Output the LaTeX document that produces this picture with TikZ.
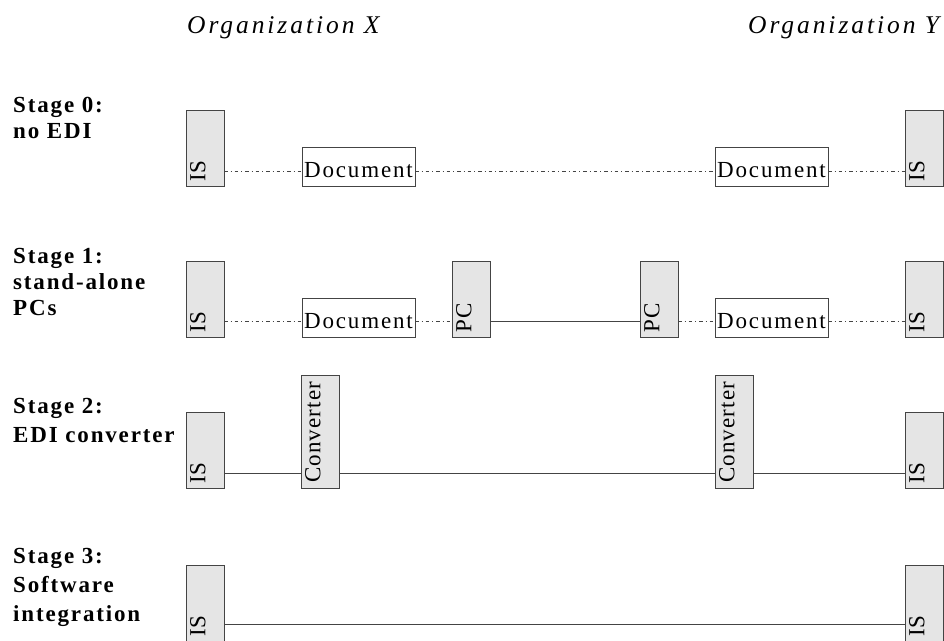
\documentclass[tikz,border=0pt]{standalone}
\usepackage{fontspec}
\setmainfont{Liberation Serif}
\newfontfamily\titlefont[LetterSpace=11.5]{Liberation Serif}
\newfontfamily\stagefont[LetterSpace=8]{Liberation Serif}
\newfontfamily\boxfont[LetterSpace=8]{Liberation Serif}
\newfontfamily\vboxfont[LetterSpace=5]{Liberation Serif}
\definecolor{boxfill}{HTML}{E5E5E5}
\definecolor{edge}{HTML}{444444}
\begin{document}
\begin{tikzpicture}[x=1pt,y=-1pt,
  title/.style={anchor=base west,inner sep=0pt,font=\titlefont\itshape\fontsize{25.5}{30}\selectfont},
  stagelbl/.style={anchor=base west,inner sep=0pt,font=\stagefont\bfseries\fontsize{23}{27}\selectfont},
  sysbox/.style={draw=edge,fill=boxfill,line width=0.8pt,anchor=south west,inner sep=0pt,outer sep=0pt,minimum width=38pt},
  tallbox/.style={sysbox,minimum height=76pt},
  convbox/.style={sysbox,minimum height=113pt},
  docbox/.style={draw=edge,fill=white,line width=0.8pt,anchor=south west,inner sep=0pt,outer sep=0pt,minimum width=113pt,minimum height=39pt},
  vtext/.style={rotate=90,anchor=north west,inner sep=0pt,font=\vboxfont\fontsize{23}{27}\selectfont},
  htext/.style={anchor=base,inner sep=0pt,font=\boxfont\fontsize{23}{27}\selectfont},
  solidlink/.style={draw=edge,line width=0.8pt},
  dotlink/.style={draw=edge,line width=0.8pt,dash pattern=on 3.5pt off 3pt on 1pt off 3pt}
]
\useasboundingbox (0,0) rectangle (944,640);

% titles
\node[title] (orgx) at (187,33) {Organization X};
\node[title] (orgy) at (748,33) {Organization Y};

% stage labels
\node[stagelbl] (s0a) at (13,112) {Stage 0:};
\node[stagelbl] (s0b) at (13,138) {no EDI};
\node[stagelbl] (s1a) at (13,263) {Stage 1:};
\node[stagelbl] (s1b) at (13,289) {stand-alone};
\node[stagelbl] (s1c) at (13,315) {PCs};
\node[stagelbl] (s2a) at (13,413) {Stage 2:};
\node[stagelbl] (s2b) at (13,442) {EDI converter};
\node[stagelbl] (s3a) at (13,563) {Stage 3:};
\node[stagelbl] (s3b) at (13,592) {Software};
\node[stagelbl] (s3c) at (13,621) {integration};

% ---- Row 0 ----
\node[tallbox] (is0l) at (186,186) {};
\node[docbox] (doc0l) at (302,186) {};
\node[docbox] (doc0r) at (715,186) {};
\node[tallbox] (is0r) at (905,186) {};
\node[vtext] (is0lt) at ([xshift=4pt,yshift=4pt]is0l.south west) {IS};
\node[vtext] (is0rt) at ([xshift=4pt,yshift=4pt]is0r.south west) {IS};
\node[htext] (doc0lt) at ([yshift=9pt]doc0l.south) {Document};
\node[htext] (doc0rt) at ([yshift=9pt]doc0r.south) {Document};
\path[dotlink] ([yshift=15pt]is0l.south east) -- ([yshift=15pt]doc0l.south west);
\path[dotlink] ([yshift=15pt]doc0l.south east) -- ([yshift=15pt]doc0r.south west);
\path[dotlink] ([yshift=15pt]doc0r.south east) -- ([yshift=15pt]is0r.south west);

% ---- Row 1 ----
\node[tallbox] (is1l) at (186,337) {};
\node[docbox] (doc1l) at (302,337) {};
\node[tallbox] (pc1l) at (452,337) {};
\node[tallbox] (pc1r) at (640,337) {};
\node[docbox] (doc1r) at (715,337) {};
\node[tallbox] (is1r) at (905,337) {};
\node[vtext] (is1lt) at ([xshift=4pt,yshift=4pt]is1l.south west) {IS};
\node[vtext] (pc1lt) at ([xshift=4pt,yshift=4pt]pc1l.south west) {PC};
\node[vtext] (pc1rt) at ([xshift=4pt,yshift=4pt]pc1r.south west) {PC};
\node[vtext] (is1rt) at ([xshift=4pt,yshift=4pt]is1r.south west) {IS};
\node[htext] (doc1lt) at ([yshift=9pt]doc1l.south) {Document};
\node[htext] (doc1rt) at ([yshift=9pt]doc1r.south) {Document};
\path[dotlink] ([yshift=16pt]is1l.south east) -- ([yshift=16pt]doc1l.south west);
\path[dotlink] ([yshift=16pt]doc1l.south east) -- ([yshift=16pt]pc1l.south west);
\path[solidlink] ([yshift=16pt]pc1l.south east) -- ([yshift=16pt]pc1r.south west);
\path[dotlink] ([yshift=16pt]pc1r.south east) -- ([yshift=16pt]doc1r.south west);
\path[dotlink] ([yshift=16pt]doc1r.south east) -- ([yshift=16pt]is1r.south west);

% ---- Row 2 ----
\node[tallbox] (is2l) at (186,488) {};
\node[convbox] (cv2l) at (301,488) {};
\node[convbox] (cv2r) at (715,488) {};
\node[tallbox] (is2r) at (905,488) {};
\node[vtext] (is2lt) at ([xshift=4pt,yshift=4pt]is2l.south west) {IS};
\node[vtext] (cv2lt) at ([xshift=4pt,yshift=5pt]cv2l.south west) {Converter};
\node[vtext] (cv2rt) at ([xshift=4pt,yshift=5pt]cv2r.south west) {Converter};
\node[vtext] (is2rt) at ([xshift=4pt,yshift=4pt]is2r.south west) {IS};
\path[solidlink] ([yshift=15pt]is2l.south east) -- ([yshift=15pt]cv2l.south west);
\path[solidlink] ([yshift=15pt]cv2l.south east) -- ([yshift=15pt]cv2r.south west);
\path[solidlink] ([yshift=15pt]cv2r.south east) -- ([yshift=15pt]is2r.south west);

% ---- Row 3 ----
\node[tallbox] (is3l) at (186,641) {};
\node[tallbox] (is3r) at (905,641) {};
\node[vtext] (is3lt) at ([xshift=4pt,yshift=4pt]is3l.south west) {IS};
\node[vtext] (is3rt) at ([xshift=4pt,yshift=4pt]is3r.south west) {IS};
\path[solidlink] ([yshift=17pt]is3l.south east) -- ([yshift=17pt]is3r.south west);
\end{tikzpicture}
\end{document}
